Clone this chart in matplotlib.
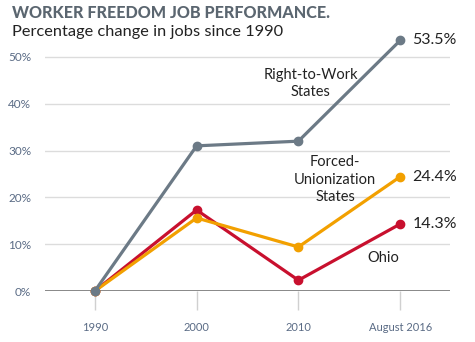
import matplotlib
matplotlib.use("Agg")
import matplotlib.pyplot as plt

years = ["1990", "2000", "2010", "August 2016"]
right_to_work = [0, 31.0, 32.0, 53.5]
forced_union = [0, 15.6, 9.4, 24.4]
ohio = [0, 17.3, 2.3, 14.3]
yticks = [0, 10, 20, 30, 40, 50]

plt.rcParams['font.family'] = ['Lato', 'DejaVu Sans']

fig = plt.figure(figsize=(4.75, 3.42), dpi=100)
ax = fig.add_axes([45/475, (342-291)/342, 405/475, 0.753])
x = list(range(len(years)))
ax.set_xlim(-0.49, 3.49)
ax.set_ylim(0, 55)

for v in yticks[1:]:
    ax.axhline(v, color="#dcdcdc", lw=1, zorder=0)
ax.axhline(0, color="#888888", lw=1.4, zorder=1)

c_gray = "#6c7a86"
c_orange = "#f2a000"
c_red = "#c8102e"
ax.plot(x, ohio, color=c_red, lw=2.3, marker="o", ms=6, clip_on=False, zorder=3)
ax.plot(x, forced_union, color=c_orange, lw=2.3, marker="o", ms=6, clip_on=False, zorder=4)
ax.plot(x, right_to_work, color=c_gray, lw=2.3, marker="o", ms=6, clip_on=False, zorder=5)

for s in ax.spines.values():
    s.set_visible(False)
ax.set_xticks(x)
ax.set_xticklabels(years)
ax.set_yticks(yticks)
ax.set_yticklabels([f"{v}%" for v in yticks])
ax.tick_params(axis="x", length=14, width=1, color="#d0d0d0", pad=8, labelsize=8, labelcolor="#5a6b85")
ax.tick_params(axis="y", length=0, pad=10, labelsize=8.5, labelcolor="#5a6b85")

tc = "#222222"
ax.text(3.12, right_to_work[3], f"{right_to_work[3]}%", fontsize=11.5, color=tc, va="center", ha="left")
ax.text(3.12, forced_union[3], f"{forced_union[3]}%", fontsize=11.5, color=tc, va="center", ha="left")
ax.text(3.12, ohio[3], f"{ohio[3]}%", fontsize=11.5, color=tc, va="center", ha="left")
ax.text(2.12, 44.3, "Right-to-Work\nStates", fontsize=10.5, color=tc, ha="center", va="center", linespacing=1.3)
ax.text(2.36, 23.8, "Forced-\nUnionization\nStates", fontsize=10.5, color=tc, ha="center", va="center", linespacing=1.3)
ax.text(2.83, 7.0, "Ohio", fontsize=10.5, color=tc, ha="center", va="center")

fig.text(12/475, 1 - 13/342, "WORKER FREEDOM JOB PERFORMANCE.", fontsize=11.6, fontweight="black",
         color="#5b6670", va="center", ha="left")
fig.text(12/475, 1 - 32/342, "Percentage change in jobs since 1990", fontsize=11.8, color="#222222",
         va="center", ha="left")

fig.savefig("out.png", dpi=100)
